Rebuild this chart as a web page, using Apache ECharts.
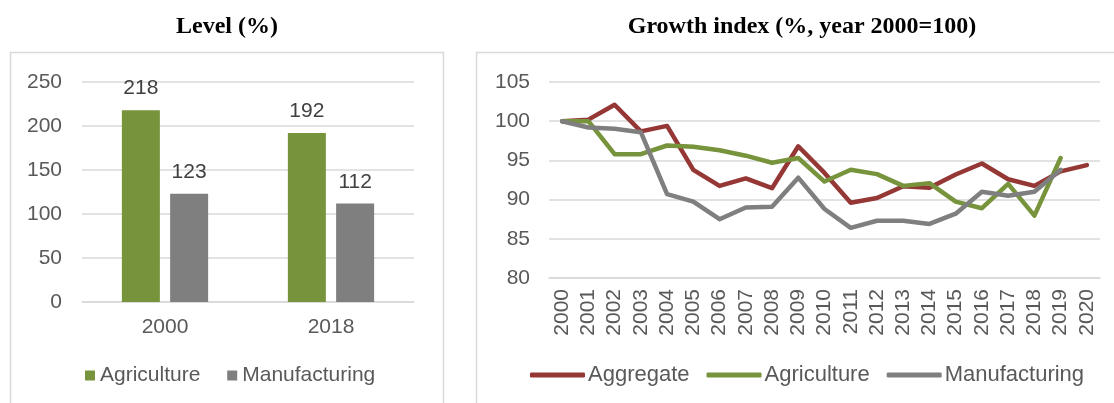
<!DOCTYPE html>
<html>
<head>
<meta charset="utf-8">
<script src="https://cdn.jsdelivr.net/npm/echarts@6/dist/echarts.min.js"></script>
<style>
html,body{margin:0;padding:0;background:#fff;}
#c{width:1114px;height:403px;}
</style>
</head>
<body>
<div id="c"></div>
<script>
// ---- Data ----
const levelCategories = ['2000', '2018'];
const levelAgriculture = [218, 192];
const levelManufacturing = [123, 112];
const levelTicks = [0, 50, 100, 150, 200, 250];

const years = ['2000','2001','2002','2003','2004','2005','2006','2007','2008','2009','2010',
               '2011','2012','2013','2014','2015','2016','2017','2018','2019','2020'];
const growthAggregate = [100, 100.2, 102.1, 98.7, 99.4, 93.8, 91.75, 92.7, 91.45, 96.8, 93.4,
                         89.6, 90.2, 91.7, 91.5, 93.2, 94.6, 92.6, 91.75, 93.6, 94.4];
const growthAgriculture = [100, 100.0, 95.8, 95.8, 96.9, 96.75, 96.3, 95.6, 94.7, 95.3, 92.3,
                           93.8, 93.25, 91.75, 92.1, 89.75, 88.9, 92.0, 87.95, 95.3, null];
const growthManufacturing = [100, 99.2, 99.05, 98.6, 90.7, 89.75, 87.5, 89.0, 89.1, 92.8, 88.8,
                             86.4, 87.3, 87.3, 86.9, 88.2, 91.0, 90.5, 91.0, 93.8, null];
const growthTicks = [80, 85, 90, 95, 100, 105];

// ---- Style ----
const RED = '#953735', GREEN = '#77933C', GREY = '#7F7F7F', GRIDC = '#D9D9D9';
const SANS = 'Liberation Sans, Arial, sans-serif';
const SERIF = 'Liberation Serif, Times New Roman, serif';
const FS = 21;
const axisLabel = {color: '#595959', fontFamily: SANS, fontSize: FS};

const chart = echarts.init(document.getElementById('c'), null, {renderer: 'canvas'});
chart.setOption({
  animation: false,
  backgroundColor: '#fff',
  graphic: [
    {type: 'rect', shape: {x: 10.5, y: 52.5, width: 433, height: 400}, style: {fill: 'none', stroke: GRIDC, lineWidth: 1.5}, z: 0},
    {type: 'rect', shape: {x: 476.5, y: 52.5, width: 700, height: 400}, style: {fill: 'none', stroke: GRIDC, lineWidth: 1.5}, z: 0}
  ],
  title: [
    {text: 'Level (%)', left: 227, top: 15, textAlign: 'center', padding: 0,
     textStyle: {fontFamily: SERIF, fontWeight: 'bold', fontSize: 24, color: '#000'}},
    {text: 'Growth index (%, year 2000=100)', left: 802, top: 15, textAlign: 'center', padding: 0,
     textStyle: {fontFamily: SERIF, fontWeight: 'bold', fontSize: 24, color: '#000'}}
  ],
  legend: [
    {left: 85, top: 365, padding: 0, itemWidth: 10, itemHeight: 10, itemGap: 21, icon: 'rect',
     data: ['Agriculture ', 'Manufacturing '],
     textStyle: {color: '#595959', fontFamily: SANS, fontSize: 21, padding: [0,0,0,0]}},
    {left: 530, top: 364, padding: 0, itemWidth: 55, itemHeight: 5, itemGap: 17, icon: 'roundRect',
     data: ['Aggregate', 'Agriculture', 'Manufacturing'],
     textStyle: {color: '#595959', fontFamily: SANS, fontSize: 22, padding: [0,0,0,-2]}}
  ],
  grid: [
    {left: 82, right: 700, top: 82, bottom: 101, containLabel: false},
    {left: 549, right: 14, top: 82, bottom: 125, containLabel: false}
  ],
  xAxis: [
    {type: 'category', gridIndex: 0, data: levelCategories,
     axisLine: {lineStyle: {color: GRIDC, width: 1.5}}, axisTick: {show: false},
     axisLabel: Object.assign({}, axisLabel, {margin: 15})},
    {type: 'category', gridIndex: 1, data: years, boundaryGap: true,
     axisLine: {lineStyle: {color: GRIDC, width: 1.5}}, axisTick: {show: false},
     axisLabel: Object.assign({}, axisLabel, {rotate: 90, margin: 11, interval: 0})}
  ],
  yAxis: [
    {type: 'value', gridIndex: 0, min: levelTicks[0], max: levelTicks[levelTicks.length-1], interval: 50,
     axisLine: {show: false}, axisTick: {show: false},
     splitLine: {lineStyle: {color: GRIDC, width: 1.5}},
     axisLabel: Object.assign({}, axisLabel, {margin: 20})},
    {type: 'value', gridIndex: 1, min: growthTicks[0], max: growthTicks[growthTicks.length-1], interval: 5,
     axisLine: {show: false}, axisTick: {show: false},
     splitLine: {lineStyle: {color: GRIDC, width: 1.5}},
     axisLabel: Object.assign({}, axisLabel, {margin: 19})}
  ],
  series: [
    {name: 'Agriculture ', type: 'bar', xAxisIndex: 0, yAxisIndex: 0, data: levelAgriculture,
     barWidth: 38, barGap: '27%', itemStyle: {color: GREEN},
     label: {show: true, position: 'top', distance: 11, color: '#404040', fontFamily: SANS, fontSize: FS}},
    {name: 'Manufacturing ', type: 'bar', xAxisIndex: 0, yAxisIndex: 0, data: levelManufacturing,
     barWidth: 38, barGap: '27%', itemStyle: {color: GREY},
     label: {show: true, position: 'top', distance: 11, color: '#404040', fontFamily: SANS, fontSize: FS}},
    {name: 'Aggregate', type: 'line', xAxisIndex: 1, yAxisIndex: 1, data: growthAggregate,
     showSymbol: false, symbol: 'none', lineStyle: {color: RED, width: 4.5, cap: 'round', join: 'round'}, itemStyle: {color: RED}, z: 3},
    {name: 'Agriculture', type: 'line', xAxisIndex: 1, yAxisIndex: 1, data: growthAgriculture,
     showSymbol: false, symbol: 'none', lineStyle: {color: GREEN, width: 4.5, cap: 'round', join: 'round'}, itemStyle: {color: GREEN}, z: 4},
    {name: 'Manufacturing', type: 'line', xAxisIndex: 1, yAxisIndex: 1, data: growthManufacturing,
     showSymbol: false, symbol: 'none', lineStyle: {color: GREY, width: 4.5, cap: 'round', join: 'round'}, itemStyle: {color: GREY}, z: 5}
  ]
});
</script>
</body>
</html>
